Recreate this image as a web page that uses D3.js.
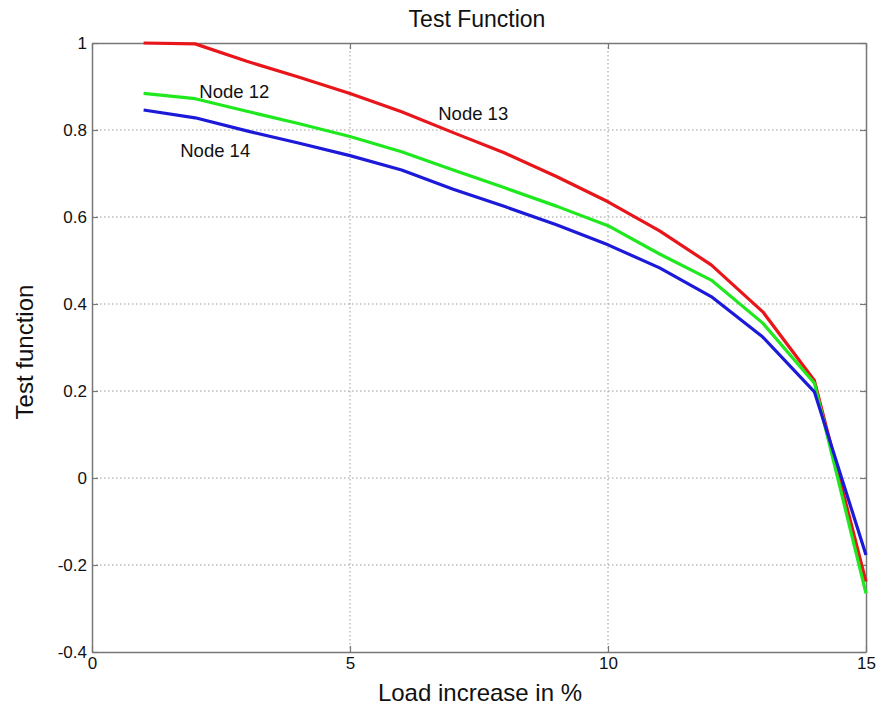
<!DOCTYPE html>
<html>
<head>
<meta charset="utf-8">
<script src="https://cdn.jsdelivr.net/npm/d3@7"></script>
<style>
  html, body { margin: 0; padding: 0; background: #fff; }
  svg { display: block; font-family: "Liberation Sans", Arial, sans-serif; }
</style>
</head>
<body>
<svg id="chart" width="881" height="710"></svg>
<script>
// Load increase steps (%)
const loadSteps = [1, 2, 3, 4, 5, 6, 7, 8, 9, 10, 11, 12, 13, 14, 15];
// Test function per node
const node13 = [1.0, 0.998, 0.958, 0.922, 0.884, 0.842, 0.794, 0.747, 0.693, 0.635, 0.568, 0.49, 0.382, 0.224, -0.238];
const node12 = [0.884, 0.872, 0.843, 0.815, 0.785, 0.75, 0.708, 0.667, 0.625, 0.58, 0.515, 0.455, 0.356, 0.218, -0.265];
const node14 = [0.846, 0.828, 0.798, 0.77, 0.741, 0.708, 0.664, 0.624, 0.582, 0.536, 0.483, 0.417, 0.324, 0.198, -0.177];
const xTicks = [0, 5, 10, 15];
const yTicks = [-0.4, -0.2, 0, 0.2, 0.4, 0.6, 0.8, 1];
const seriesNames = ["Node 12", "Node 13", "Node 14"];

const svg = d3.select("#chart");
const plotLeft = 92, plotRight = 866, plotTop = 43, plotBottom = 652;

const x = d3.scaleLinear().domain([0, 15]).range([plotLeft, plotRight]);
const y = d3.scaleLinear().domain([-0.4, 1]).range([plotBottom, plotTop]);

// dotted grid
const grid = svg.append("g").attr("stroke", "#9a9a9a").attr("stroke-width", 1)
  .attr("stroke-dasharray", "1.5,2.5");
grid.selectAll("line.gx").data(xTicks.slice(1, -1)).join("line").attr("class", "gx")
  .attr("x1", d => x(d)).attr("x2", d => x(d)).attr("y1", plotTop).attr("y2", plotBottom);
grid.selectAll("line.gy").data(yTicks.slice(1, -1)).join("line").attr("class", "gy")
  .attr("y1", d => y(d)).attr("y2", d => y(d)).attr("x1", plotLeft).attr("x2", plotRight);

// boxed axes with inward ticks
const axisColor = "#777";
const tickFont = 17;
const plainNumber = d => String(+d.toFixed(1));
const gx = svg.append("g").attr("transform", `translate(0,${plotBottom})`)
  .call(d3.axisBottom(x).tickValues(xTicks).tickSize(-6).tickPadding(5).tickSizeOuter(0)
    .tickFormat(plainNumber));
const gxTop = svg.append("g").attr("transform", `translate(0,${plotTop})`)
  .call(d3.axisTop(x).tickValues(xTicks).tickSize(-6).tickFormat("").tickSizeOuter(0));
const gy = svg.append("g").attr("transform", `translate(${plotLeft},0)`)
  .call(d3.axisLeft(y).tickValues(yTicks).tickSize(-6).tickPadding(5).tickSizeOuter(0)
    .tickFormat(plainNumber));
const gyRight = svg.append("g").attr("transform", `translate(${plotRight},0)`)
  .call(d3.axisRight(y).tickValues(yTicks).tickSize(-6).tickFormat("").tickSizeOuter(0));
[gx, gxTop, gy, gyRight].forEach(g => {
  g.select(".domain").attr("stroke", axisColor).attr("stroke-width", 1.5);
  g.selectAll(".tick line").attr("stroke", axisColor).attr("stroke-width", 1.2);
  g.selectAll("text").attr("fill", "#111").attr("font-size", tickFont)
    .attr("font-family", "'Liberation Sans', Arial, sans-serif");
});

// node curves
const line = d3.line().x((d, i) => x(loadSteps[i])).y(d => y(d));
const series = [
  { values: node13, color: "#e8151b" },
  { values: node12, color: "#1fe81f" },
  { values: node14, color: "#1c1ad8" }
];
svg.append("g").selectAll("path").data(series).join("path")
  .attr("d", d => line(d.values))
  .attr("fill", "none")
  .attr("stroke", d => d.color)
  .attr("stroke-width", 3.2)
  .attr("stroke-linejoin", "round");

// node labels
const labels = [
  { text: seriesNames[0], lx: 2.08, ly: 0.874 },
  { text: seriesNames[1], lx: 6.71, ly: 0.824 },
  { text: seriesNames[2], lx: 1.71, ly: 0.737 }
];
svg.append("g").selectAll("text").data(labels).join("text")
  .attr("x", d => x(d.lx)).attr("y", d => y(d.ly))
  .attr("font-size", 18.5).attr("fill", "#111")
  .text(d => d.text);

// title and axis titles
svg.append("text").attr("x", 477).attr("y", 27).attr("text-anchor", "middle")
  .attr("font-size", 23).attr("fill", "#111").text("Test Function");
svg.append("text").attr("x", 480).attr("y", 701).attr("text-anchor", "middle")
  .attr("font-size", 24).attr("fill", "#111").text("Load increase in %");
svg.append("text").attr("transform", "translate(33,352) rotate(-90)").attr("text-anchor", "middle")
  .attr("font-size", 24).attr("fill", "#111").text("Test function");
</script>
</body>
</html>
